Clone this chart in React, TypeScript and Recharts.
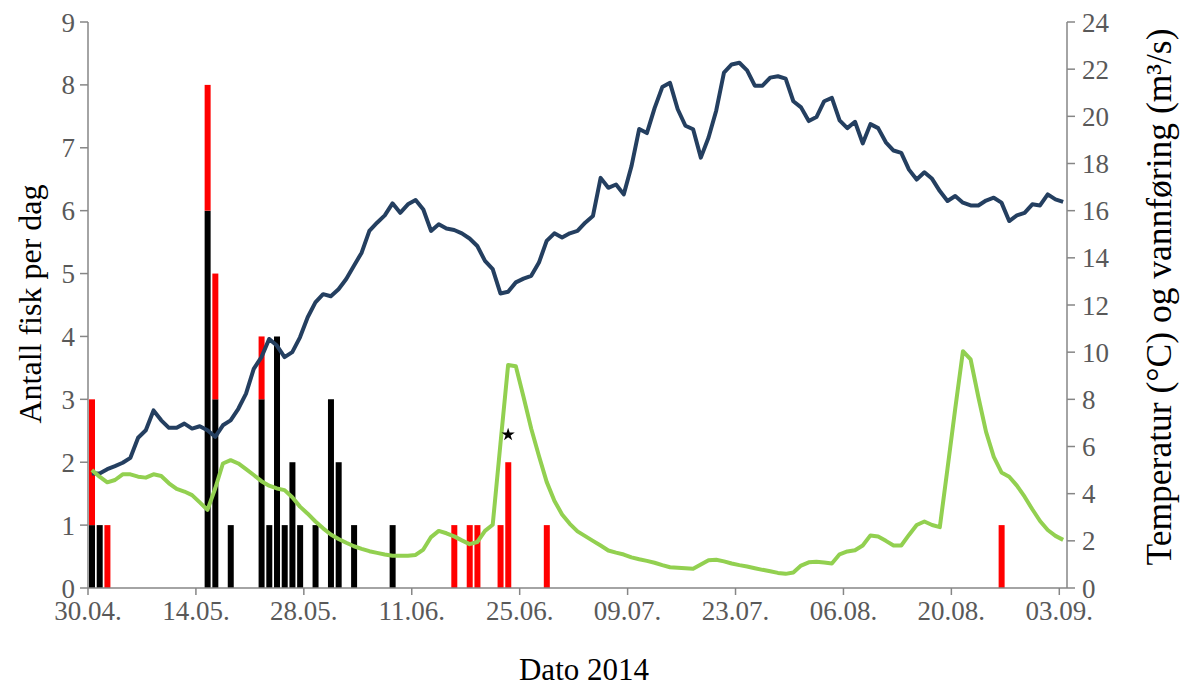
import React from 'react';
import { ComposedChart, Bar, Line, Scatter, XAxis, YAxis } from 'recharts';

// Daily series, 30.04.2014 (index 0) to 04.09.2014 (index 126)
const temperature = [
  4.86, 4.86, 5.04, 5.17, 5.31, 5.52, 6.37, 6.69, 7.53, 7.11,
  6.79, 6.79, 6.97, 6.76, 6.86, 6.69, 6.41, 6.9, 7.11, 7.6,
  8.24, 9.29, 9.79, 10.56, 10.28, 9.79, 10.0, 10.63, 11.48, 12.11,
  12.46, 12.37, 12.67, 13.1, 13.66, 14.22, 15.14, 15.49, 15.8, 16.31,
  15.91, 16.27, 16.45, 16.05, 15.14, 15.42, 15.24, 15.18, 15.04, 14.82,
  14.5, 13.87, 13.52, 12.49, 12.56, 12.96, 13.12, 13.24, 13.8, 14.72,
  15.04, 14.86, 15.04, 15.14, 15.49, 15.77, 17.39, 16.97, 17.11, 16.69,
  17.88, 19.46, 19.29, 20.35, 21.24, 21.42, 20.3, 19.6, 19.45, 18.25,
  19.1, 20.25, 21.85, 22.2, 22.27, 21.95, 21.3, 21.3, 21.64, 21.7,
  21.6, 20.64, 20.38, 19.8, 19.97, 20.64, 20.78, 19.83, 19.5, 19.77,
  18.85, 19.67, 19.5, 18.9, 18.55, 18.45, 17.74, 17.32, 17.63, 17.35,
  16.83, 16.41, 16.62, 16.34, 16.22, 16.22, 16.43, 16.55, 16.34, 15.56,
  15.8, 15.91, 16.27, 16.22, 16.69, 16.48, 16.37,
];

const discharge = [
  5.0, 4.72, 4.48, 4.58, 4.82, 4.82, 4.72, 4.68, 4.82, 4.75,
  4.44, 4.2, 4.09, 3.94, 3.63, 3.31, 4.22, 5.28, 5.42, 5.28,
  5.04, 4.79, 4.53, 4.34, 4.22, 4.15, 3.85, 3.45, 3.15, 2.82,
  2.53, 2.27, 2.08, 1.92, 1.77, 1.66, 1.56, 1.49, 1.42, 1.37,
  1.37, 1.37, 1.4, 1.63, 2.16, 2.42, 2.32, 2.19, 2.02, 1.86,
  1.95, 2.42, 2.68, 6.1, 9.46, 9.4, 8.1, 6.75, 5.6, 4.5,
  3.7, 3.12, 2.72, 2.4, 2.2, 2.0, 1.8, 1.59, 1.5, 1.42,
  1.3, 1.22, 1.15, 1.07, 0.97, 0.88, 0.86, 0.84, 0.82, 1.0,
  1.18, 1.2, 1.13, 1.04, 0.97, 0.91, 0.84, 0.77, 0.71, 0.64,
  0.6, 0.66, 0.95, 1.09, 1.11, 1.08, 1.04, 1.43, 1.55, 1.6,
  1.8, 2.23, 2.18, 2.0, 1.8, 1.8, 2.25, 2.67, 2.82, 2.67,
  2.58, 5.07, 7.6, 10.04, 9.69, 8.1, 6.62, 5.56, 4.9, 4.72,
  4.34, 3.87, 3.34, 2.84, 2.46, 2.21, 2.04,
];

// Fish caught per day (day index from 30.04)
const catchDays = [0, 1, 2, 15, 16, 18, 22, 23, 24, 25, 26, 27, 29, 31, 32, 34, 39, 47, 49, 50, 53, 54, 59, 118];
const blackCounts = [1, 1, 0, 6, 3, 1, 3, 1, 4, 1, 2, 1, 1, 3, 2, 1, 1, 0, 0, 0, 0, 0, 0, 0];
const redCounts = [2, 0, 1, 2, 2, 0, 1, 0, 0, 0, 0, 0, 0, 0, 0, 0, 0, 1, 1, 1, 1, 2, 1, 1];

// Star marker (day index, right-axis value)
const starDay = [54];
const starValue = [6.5];

const tickDays = [0, 14, 28, 42, 56, 70, 84, 98, 112, 126];
const tickLabels = ['30.04.', '14.05.', '28.05.', '11.06.', '25.06.', '09.07.', '23.07.', '06.08.', '20.08.', '03.09.'];
const leftTicks = [0, 1, 2, 3, 4, 5, 6, 7, 8, 9];
const rightTicks = [0, 2, 4, 6, 8, 10, 12, 14, 16, 18, 20, 22, 24];

const data = temperature.map((t, i) => {
  const row: any = { x: i + 0.5, temp: t, flow: discharge[i] };
  return row;
});
catchDays.forEach((d, k) => {
  data[d].black = blackCounts[k];
  data[d].red = redCounts[k];
});
const starData = starDay.map((d, k) => ({ x: d + 0.5, star: starValue[k] }));

const FONT = "'Liberation Serif', 'Times New Roman', serif";
const AXIS = '#868686';
const TICKC = '#595959';

const StarShape = (props: any) => {
  const { cx, cy } = props;
  if (cx == null || cy == null) return null;
  const pts: string[] = [];
  for (let i = 0; i < 10; i++) {
    const r = i % 2 === 0 ? 7 : 2.6;
    const a = -Math.PI / 2 + (i * Math.PI) / 5;
    pts.push(`${cx + r * Math.cos(a)},${cy + r * Math.sin(a)}`);
  }
  return <polygon points={pts.join(' ')} fill="#000" />;
};

export default function App() {
  return (
    <div style={{ position: 'absolute', left: 0, top: 0, width: 1183, height: 686, background: '#fff' }}>
      <ComposedChart width={1183} height={686} data={data} margin={{ top: 22, right: 0, bottom: 0, left: 0 }}>
        <XAxis
          dataKey="x"
          type="number"
          domain={[0, 127]}
          ticks={tickDays}
          tickFormatter={(v: number) => tickLabels[tickDays.indexOf(v)] ?? ''}
          height={98}
          stroke={AXIS}
          strokeWidth={1.5}
          tickSize={7}
          tickMargin={6}
          tick={{ fill: TICKC, fontSize: 27, fontFamily: FONT }}
          interval={0}
          allowDataOverflow
          label={{
            content: () => (
              <text x={584} y={680} textAnchor="middle" fontFamily={FONT} fontSize={31} fill="#000">
                Dato 2014
              </text>
            ),
          }}
        />
        <YAxis
          yAxisId="left"
          orientation="left"
          domain={[0, 9]}
          ticks={leftTicks}
          width={88}
          stroke={AXIS}
          strokeWidth={1.5}
          tickSize={8}
          tickMargin={5}
          interval={0}
          tick={{ fill: TICKC, fontSize: 27, fontFamily: FONT }}
          label={{
            content: () => (
              <text x={30} y={304} transform="rotate(-90 30 304)" textAnchor="middle" dominantBaseline="central" fontFamily={FONT} fontSize={32} fill="#000">
                Antall fisk per dag
              </text>
            ),
          }}
        />
        <YAxis
          yAxisId="right"
          orientation="right"
          domain={[0, 24]}
          ticks={rightTicks}
          width={116}
          stroke={AXIS}
          strokeWidth={1.5}
          tickSize={8}
          tickMargin={7}
          interval={0}
          tick={{ fill: TICKC, fontSize: 27, fontFamily: FONT }}
          label={{
            content: () => (
              <text x={1159} y={297} transform="rotate(-90 1159 297)" textAnchor="middle" dominantBaseline="central" fontFamily={FONT} fontSize={35.5} fill="#000">
                Temperatur (°C) og vannføring (m³/s)
              </text>
            ),
          }}
        />
        <Bar dataKey="black" stackId="fish" yAxisId="left" fill="#000000" barSize={6} isAnimationActive={false} />
        <Bar dataKey="red" stackId="fish" yAxisId="left" fill="#FF0000" barSize={6} isAnimationActive={false} />
        <Line
          type="linear"
          dataKey="temp"
          yAxisId="right"
          stroke="#243F60"
          strokeWidth={4}
          dot={false}
          activeDot={false}
          strokeLinejoin="round"
          isAnimationActive={false}
        />
        <Line
          type="linear"
          dataKey="flow"
          yAxisId="right"
          stroke="#92D050"
          strokeWidth={4}
          dot={false}
          activeDot={false}
          strokeLinejoin="round"
          isAnimationActive={false}
        />
        <Scatter data={starData} dataKey="star" yAxisId="right" shape={StarShape} isAnimationActive={false} />
      </ComposedChart>
    </div>
  );
}
